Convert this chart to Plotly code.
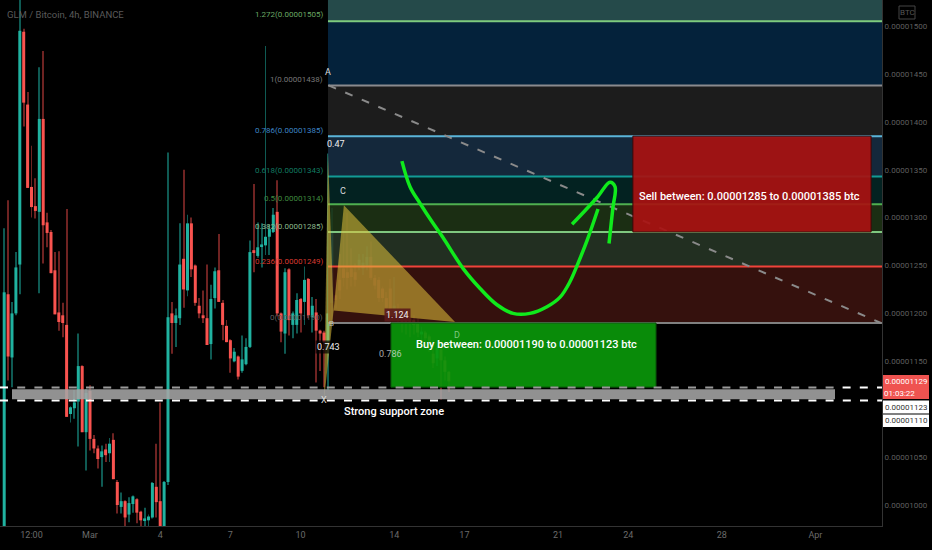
import pandas as pd
import plotly.graph_objects as go

# ---- data (prices in satoshi, i.e. 1e-8 BTC) ----
opens = [963,1220,1154,1200,1251,1494,1418,1332,1312,1306,1403,1295,1285,1245,1201,1198,1188,1095,1101,1108,
         1145,1076,1119,1069,1059,1050,1058,1054,1068,1024,998,1004,990,1001,1006,993,984,984,987,1019,
         1004,960,1024,1200,1190,1195,1257,1224,1294,1250,1208,1198,1195,1168,1216,1245,1211,1187,1172,1150,
         1155,1140,1147,1165,1266,1260,1270,1271,1280,1285,1306,1200,1179,1246,1188,1188,1215,1212,1236,1196,
         1201,1182,1180,1170,1211,1219,1235,1247,1243,1247,1243,1250,1247,1250,1259,1237,1235,1226,1216,1226,
         1203,1203,1198,1195,1195,1193,1191,1178,1180,1176,1158,1153,1162,1151,1139]
highs = [1289,1318,1212,1264,1535,1497,1431,1375,1341,1457,1474,1305,1287,1264,1265,1211,1309,1103,1120,1179,
         1146,1121,1125,1073,1062,1062,1064,1070,1075,1026,1013,1005,1008,1010,1007,994,997,990,1024,1064,
         1107,1025,1368,1212,1205,1294,1350,1303,1300,1251,1216,1224,1251,1230,1248,1283,1214,1193,1173,1164,
         1156,1177,1174,1276,1335,1295,1294,1479,1293,1310,1339,1201,1247,1247,1202,1221,1216,1249,1237,1217,
         1215,1183,1182,1367,1310,1235,1262,1285,1305,1268,1252,1262,1262,1270,1275,1240,1238,1228,1222,1236,
         1238,1210,1205,1200,1197,1198,1195,1186,1182,1178,1172,1172,1170,1155,1140]
lows = [960,1130,1123,1198,1220,1395,1331,1300,1299,1221,1252,1269,1242,1199,1182,1175,1092,1086,1090,1061,
        1076,1036,1057,1054,1038,1019,1045,1045,1027,991,991,975,982,992,981,975,975,975,986,987,
        955,955,1021,1158,1165,1188,1206,1218,1238,1208,1195,1190,1167,1152,1205,1212,1172,1170,1138,1149,
        1131,1138,1146,1164,1243,1258,1248,1261,1261,1284,1197,1170,1158,1177,1174,1179,1180,1188,1195,1180,
        1128,1140,1123,1120,1190,1205,1215,1228,1225,1228,1228,1245,1240,1245,1235,1225,1212,1212,1200,1198,
        1200,1190,1180,1178,1175,1178,1175,1172,1165,1160,1143,1145,1110,1130,1118]
closes = [1222,1155,1200,1248,1495,1420,1331,1311,1307,1403,1292,1284,1242,1199,1191,1190,1092,1102,1107,1145,
          1076,1117,1069,1059,1048,1056,1052,1064,1027,1000,1004,987,1002,1009,992,984,986,988,1023,1003,
          960,1024,1196,1190,1198,1251,1225,1294,1246,1211,1200,1195,1167,1215,1244,1212,1188,1170,1153,1160,
          1134,1152,1165,1264,1263,1269,1272,1280,1288,1303,1200,1181,1243,1193,1200,1214,1200,1235,1198,1208,
          1182,1179,1170,1200,1284,1214,1224,1237,1237,1238,1235,1256,1253,1259,1237,1229,1216,1216,1206,1201,
          1208,1195,1191,1191,1189,1188,1180,1181,1174,1169,1148,1164,1151,1139,1129]

fib_levels = [1190, 1249, 1285, 1314, 1343, 1385, 1438, 1505, 1560]
fib_fills = ["#35110e", "#232f22", "#1c2e14", "#032322", "#15293b", "#1d1d1d", "#05233b", "#254a4a"]
fib_lines = ["#808080", "#f0433a", "#7fc77f", "#4fb050", "#129b96", "#5ab4d8", "#8a8a8e", "#7ecb7e"]
fib_texts = ["0(0.00001190)", "0.236(0.00001249)", "0.382(0.00001285)", "0.5(0.00001314)",
             "0.618(0.00001343)", "0.786(0.00001385)", "1(0.00001438)", "1.272(0.00001505)"]
fib_text_colors = ["#5f5f5f", "#d93a30", "#8bb98b", "#3f8a3f", "#127a60", "#3d85c6", "#777777", "#6aa964"]

y_tick_vals = [1500, 1450, 1400, 1350, 1300, 1250, 1200, 1150, 1050, 1000]
y_tick_text = ["0.00001500", "0.00001450", "0.00001400", "0.00001350", "0.00001300",
               "0.00001250", "0.00001200", "0.00001150", "0.00001050", "0.00001000"]
x_tick_days = [-2.5, 0, 3, 6, 9, 13, 16, 20, 23, 27, 31]
x_tick_text = ["12:00", "Mar", "4", "7", "10", "14", "17", "21", "24", "28", "Apr"]

# drawings, in days after 1 March and satoshi
trend_days, trend_price = [10.2, 33.8], [1438, 1190]
curve_days = [13.33,13.68,14.10,14.66,15.09,15.94,16.67,17.39,18.08,18.80,19.53,20.09,20.51,20.85,21.24,21.71]
curve_price = [1359,1332,1315,1294,1279,1247,1226,1209,1200,1200,1207,1217,1233,1252,1276,1309]
arrow_days = [20.60,21.67,22.22,22.44,22.35,22.18]
arrow_price = [1293,1321,1337,1332,1311,1273]
xab_days, xab_price = [10.0,10.17,10.41], [1109,1367,1203]
bcd_days, bcd_price = [10.41,10.85,15.6], [1203,1313,1191]

# ---- geometry helpers ----
PLOT_W, PLOT_H = 882, 526
PX_PER_DAY = 23.4
T0 = pd.Timestamp("2021-03-01")
def day(d):
    return T0 + pd.to_timedelta(d, unit="D")
def days(seq):
    return [day(d) for d in seq]
def px_x(x):
    return x / PLOT_W
def px_y(y):
    return 1 - y / PLOT_H
def over(hexcol, a=0.88):
    r, g, b = (int(hexcol[i:i+2], 16) for i in (1, 3, 5))
    return f"rgba({min(255,int(r/a))},{min(255,int(g/a))},{min(255,int(b/a))},{a})"

times = pd.date_range("2021-02-25 08:00", periods=len(opens), freq="4h")
ms_per_px = 86400000 / PX_PER_DAY
UP, DOWN, UPW, DOWNW = "#20b2a0", "#f9534f", "#0f5a53", "#6f2322"
is_up = [c >= o for o, c in zip(opens, closes)]

fig = go.Figure()
fig.add_bar(x=times, y=[h - l for h, l in zip(highs, lows)], base=lows, width=ms_per_px * 1.0,
            marker=dict(color=[UPW if u else DOWNW for u in is_up], line_width=0))
fig.add_bar(x=times, y=[max(abs(c - o), 1) for o, c in zip(opens, closes)],
            base=[min(o, c) for o, c in zip(opens, closes)], width=ms_per_px * 3.0,
            marker=dict(color=[UP if u else DOWN for u in is_up], line_width=0))

FIB_L, FIB_R = 10.17, 33.9
def poly(xd, yv, fill, line=None, lw=1):
    fig.add_scatter(x=days(xd + xd[:1]), y=yv + yv[:1], mode="lines", fill="toself", fillcolor=fill,
                    line=dict(color=line or "rgba(0,0,0,0)", width=lw))
for k, col in enumerate(fib_fills):
    poly([FIB_L, FIB_R, FIB_R, FIB_L], [fib_levels[k], fib_levels[k], fib_levels[k+1], fib_levels[k+1]], over(col))
for k, col in enumerate(fib_lines):
    fig.add_scatter(x=days([FIB_L, FIB_R]), y=[fib_levels[k]] * 2, mode="lines", line=dict(color=col, width=2))

poly(xab_days, xab_price, "rgba(225,195,60,0.55)")
poly(bcd_days, bcd_price, "rgba(225,195,60,0.55)")

fig.add_scatter(x=days(trend_days), y=trend_price, mode="lines",
                line=dict(color="#8a8a8a", width=2, dash="8px,10px"))

poly([12.86, 24.19, 24.19, 12.86], [1190, 1190, 1123, 1123], over("#0a8c0a", 0.93), "#0a4d0a", 1)
poly([23.2, 33.38, 33.38, 23.2], [1385, 1385, 1285, 1285], over("#9c1010", 0.92), "#3a0808", 1)

# support zone and its dashed limits
ZONE_L, ZONE_R = (12 - 90) / PX_PER_DAY, (835 - 90) / PX_PER_DAY
DASH = "8px,9.2px"
fig.add_scatter(x=days([ZONE_L, ZONE_R]), y=[1115.7] * 2, mode="lines",
                line=dict(color="rgba(165,165,165,0.88)", width=10))
fig.add_scatter(x=days([(17.2 - 90) / PX_PER_DAY, ZONE_R]), y=[1122.7] * 2, mode="lines",
                line=dict(color="#9a9a9a", width=2, dash=DASH))
fig.add_scatter(x=days([-90 / PX_PER_DAY, ZONE_L]), y=[1122.7] * 2, mode="lines",
                line=dict(color="#ffffff", width=2, dash=DASH))
fig.add_scatter(x=days([(842.6 - 90) / PX_PER_DAY, FIB_R]), y=[1122.7] * 2, mode="lines",
                line=dict(color="#ffffff", width=2, dash=DASH))
fig.add_scatter(x=days([-90 / PX_PER_DAY, FIB_R]), y=[1109.2] * 2, mode="lines",
                line=dict(color="#ffffff", width=2, dash=DASH))

for dd, pp in ((curve_days, curve_price), (arrow_days, arrow_price)):
    fig.add_scatter(x=days(dd), y=pp, mode="lines", line=dict(color="#10ea1c", width=3.5, shape="spline"))

# ---- texts ----
FONT = "Roboto"
def note(x, y, text, color="#ffffff", size=11, anchor="center", bg=None, weight=None):
    f = dict(family=FONT, size=size, color=color)
    if weight:
        f["weight"] = weight
    fig.add_annotation(xref="paper", yref="paper", x=px_x(x), y=px_y(y), text=text, showarrow=False,
                       xanchor=anchor, yanchor="middle", align=anchor, font=f, bgcolor=bg, borderpad=1)

note(5, 14, "GLM / Bitcoin, 4h, BINANCE", "#5a5a5a", 9.5, "left")
fib_text_y = [317, 261, 226, 198, 170, 130, 79, 15]
for txt, col, yy in zip(fib_texts, fib_text_colors, fib_text_y):
    note(325, yy, txt, col, 8, "right")

note(328, 72, "A", "#dddddd", 9)
note(343, 191, "C", "#dddddd", 9)
note(331, 323, "B", "#bbbbbb", 8)
note(324, 400, "X", "#dddddd", 9)
note(457, 335, "D", "#7fc77f", 9)
note(336, 144, "0.47", "#eeeeee", 9)
note(328, 347, "0.743", "#eeeeee", 9, bg="rgba(0,0,0,0.7)")
note(390, 354, "0.786", "rgba(225,225,225,0.75)", 9)
note(397, 315, "1.124", "#eeeeee", 9, bg="rgba(90,25,25,0.9)")
note(749, 197, "Sell between: 0.00001285 to 0.00001385 btc", "#ffffff", 11, weight=500)
note(526, 344, "Buy between: 0.00001190 to 0.00001123 btc", "#ffffff", 11, weight=500)
note(394, 411, "Strong support zone", "#ffffff", 11, weight=500)

shapes = [
    dict(type="rect", xref="paper", yref="paper", x0=px_x(883), x1=px_x(929), y0=px_y(375), y1=px_y(399),
         fillcolor="#ef5350", line_width=0),
    dict(type="rect", xref="paper", yref="paper", x0=px_x(883), x1=px_x(929), y0=px_y(400.5), y1=px_y(413.5),
         fillcolor="#ffffff", line_width=0),
    dict(type="rect", xref="paper", yref="paper", x0=px_x(883), x1=px_x(929), y0=px_y(414.5), y1=px_y(427),
         fillcolor="#ffffff", line_width=0),
    dict(type="rect", xref="paper", yref="paper", x0=px_x(899), x1=px_x(915), y0=px_y(6), y1=px_y(19),
         line=dict(color="#444444", width=1), fillcolor="rgba(0,0,0,0)"),
]
note(906, 381.5, "0.00001129", "#ffffff", 8)
note(899, 393, "01:03:22", "#ffffff", 8)
note(906, 407, "0.00001123", "#333333", 8)
note(906, 420.5, "0.00001110", "#333333", 8)
note(907, 12.5, "BTC", "#555555", 8)

fig.update_layout(
    width=932, height=550, autosize=False,
    margin=dict(l=0, r=50, t=0, b=24, pad=0),
    paper_bgcolor="#000000", plot_bgcolor="#000000",
    showlegend=False, barmode="overlay", hovermode=False, shapes=shapes,
    font=dict(family=FONT, size=10, color="#6b6b6b"),
    xaxis=dict(type="date", range=[day(-90 / PX_PER_DAY), day((PLOT_W - 90) / PX_PER_DAY)],
               tickvals=days(x_tick_days), ticktext=x_tick_text, showgrid=False, zeroline=False,
               showline=True, linecolor="#333333", linewidth=1, ticks="", tickangle=0,
               tickfont=dict(size=9, color="#6b6b6b"), rangeslider=dict(visible=False)),
    yaxis=dict(side="right", range=[1000 - (PLOT_H - 505) / 0.958, 1500 + 26 / 0.958],
               tickvals=y_tick_vals, ticktext=y_tick_text, showgrid=False, zeroline=False,
               showline=True, linecolor="#333333", linewidth=1, ticks="",
               tickfont=dict(size=8, color="#5f5f5f")),
)
fig.write_html("out.html", config=dict(displayModeBar=False),
               post_script="document.body.style.margin='0';document.body.style.background='#000';"
                           "document.body.style.overflow='hidden';")
